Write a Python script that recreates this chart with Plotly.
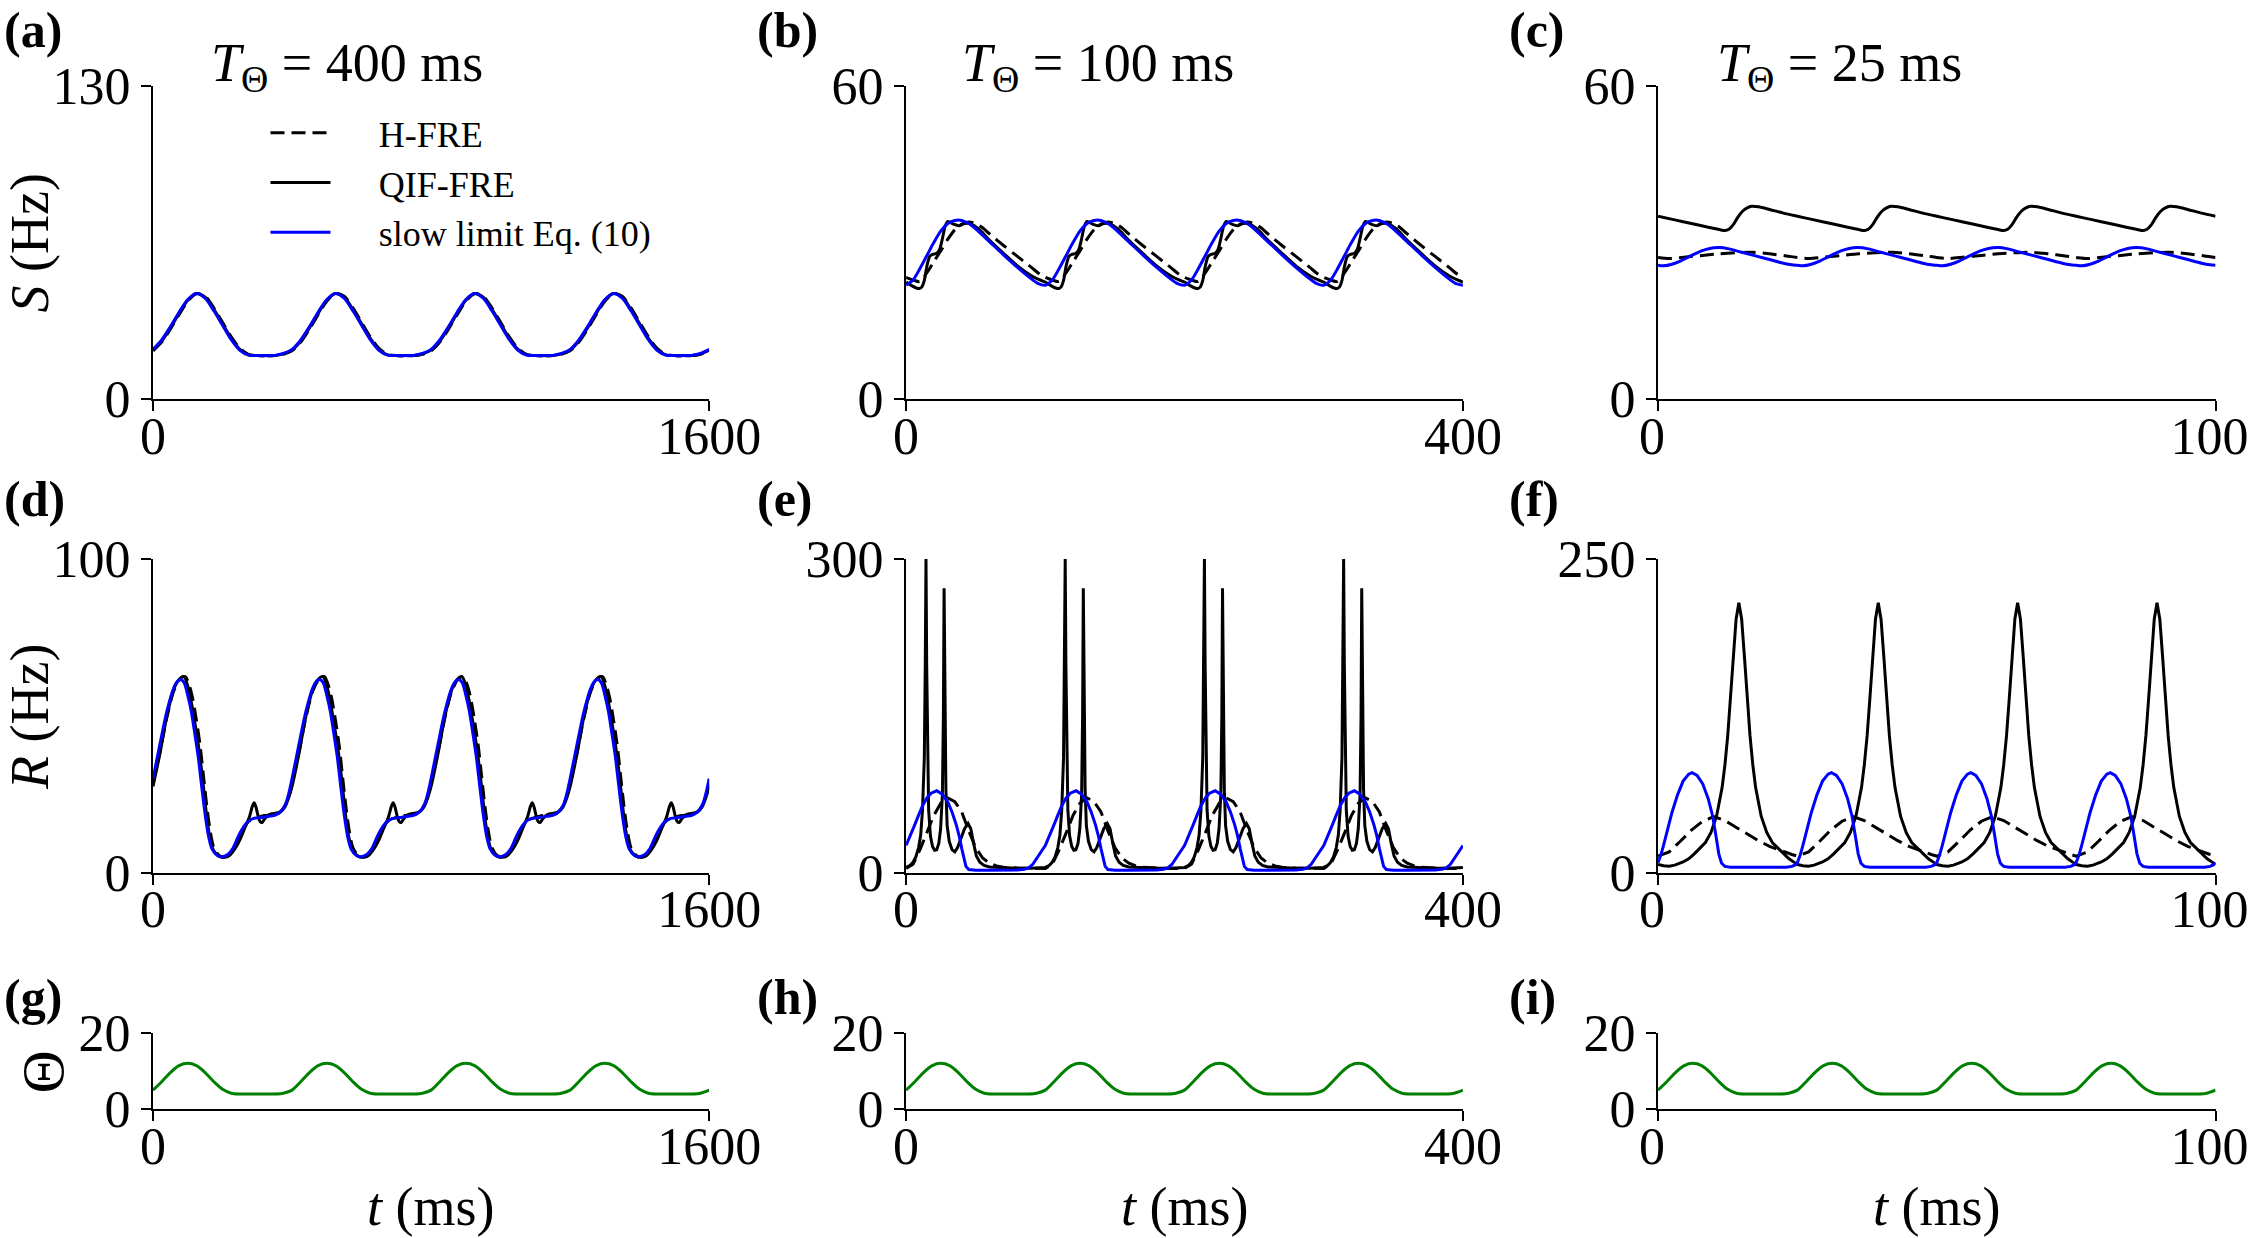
import plotly.graph_objects as go

# ---------------- data (one period of each periodic trace) ----------------
N_PERIODS = 4
PERIOD_A, PERIOD_B, PERIOD_C = 400, 100, 25          # ms  (T_Theta)
XMAX = [1600, 400, 100]

# (a) S, T=400 ms
phase_a = [0, 25, 50, 75, 100, 125, 150, 175, 200, 225, 250, 275, 300, 325, 350, 375]
S_a_hfre = [20.0, 23.6, 29.0, 35.0, 40.6, 43.7, 42.6, 37.8, 31.8, 25.8, 21.0, 18.5, 18.0, 18.0, 18.0, 18.6]
S_a_qif = [20.3, 24.0, 29.5, 35.5, 41.0, 43.8, 42.2, 37.2, 31.2, 25.2, 20.6, 18.3, 18.0, 18.0, 18.0, 18.7]
S_a_blue = [20.6, 24.5, 30.0, 36.0, 41.3, 43.8, 41.8, 36.6, 30.6, 24.6, 20.2, 18.2, 18.0, 18.0, 18.1, 18.9]

# (b) S, T=100 ms
phase_b_hfre = [0, 5, 10, 15, 20, 25, 30, 35, 40, 45, 50, 55, 60, 70, 80, 90, 96]
S_b_hfre = [23.3, 22.8, 22.5, 24.2, 26.3, 28.4, 30.6, 32.4, 33.5, 33.9, 33.6, 32.8, 31.6, 29.4, 27.3, 25.2, 23.9]
phase_b_qif = [0, 4, 8, 10, 11.5, 13, 15, 17, 19, 22, 24, 26, 28, 30, 34, 38, 42, 47, 52, 60, 70, 80, 90, 96]
S_b_qif = [22.4, 21.7, 21.2, 21.2, 21.5, 22.6, 25.5, 27.3, 27.7, 27.9, 28.6, 30.6, 33.0, 34.0, 33.5, 33.2,
           33.6, 33.5, 32.6, 30.4, 27.9, 25.5, 23.6, 22.8]
phase_b_blue = [0, 5, 10, 15, 20, 25, 30, 35, 40, 45, 50, 60, 70, 80, 90, 95]
S_b_blue = [21.8, 22.8, 25.0, 27.5, 30.0, 32.2, 33.6, 34.2, 34.2, 33.6, 32.6, 30.1, 27.6, 25.2, 23.0, 22.1]

# (c) S, T=25 ms
phase_c_hfre = [0, 2, 5, 8, 11, 14, 17, 20, 23]
S_c_hfre = [27.1, 26.9, 27.2, 27.5, 27.8, 28.0, 28.1, 27.8, 27.4]
phase_c_qif = [0, 3, 6, 9, 11, 12, 12.7, 13.5, 14.3, 15.2, 16, 16.8, 18, 20, 22.5]
S_c_qif = [35.0, 34.3, 33.6, 32.9, 32.45, 32.25, 32.5, 33.4, 34.8, 36.0, 36.6, 36.9, 36.8, 36.3, 35.6]
phase_c_blue = [0, 1, 2.5, 4, 5.5, 7, 8.5, 10, 11, 12.5, 15, 17.5, 20, 22.5, 24]
S_c_blue = [25.6, 25.5, 25.8, 26.4, 27.2, 28.0, 28.6, 28.95, 29.0, 28.8, 28.1, 27.4, 26.7, 26.0, 25.7]

# (d) R, T=400 ms
phase_d_hfre = [0, 20, 40, 60, 80, 93, 105, 115, 125, 135, 145, 155, 165, 175, 190, 205, 220, 235, 250, 265,
                280, 300, 320, 340, 360, 375, 390]
R_d_hfre = [28.5, 38.5, 49.5, 58, 62, 62.5, 59.5, 55, 48.5, 41, 31, 21, 13, 8, 5.5, 5, 5.8, 8.5, 12, 15,
            16.8, 17.6, 18.2, 18.4, 18.8, 20.5, 24]
phase_d_qif = [0, 20, 40, 60, 75, 89, 100, 110, 120, 130, 140, 148, 156, 165, 172, 180, 195, 205, 220, 235,
               250, 265, 278, 286, 291, 296, 302, 308, 314, 322, 335, 355, 368, 380, 390]
R_d_qif = [27.5, 38, 50, 58.5, 61.6, 62.5, 59.5, 54.5, 48, 41, 32.5, 24.5, 16.5, 10.4, 7.6, 6.2, 5.0, 4.9, 5.5, 7.5,
           10.5, 14.5, 18.0, 21.2, 22.3, 21.0, 18.2, 16.3, 16.0, 17.3, 18.5, 19.0, 19.5, 21.0, 23.8]
phase_d_blue = [0, 20, 40, 60, 72, 80, 90, 100, 110, 120, 130, 140, 150, 160, 170, 185, 200, 215, 230, 245,
                260, 275, 290, 310, 330, 350, 365, 380, 390]
R_d_blue = [30, 41, 51.5, 59, 61.2, 61.6, 60.5, 56.5, 51.5, 44.5, 37, 27.5, 18.5, 11.5, 7.5, 5.5, 5.1, 5.8, 7.8, 11.5,
            14.5, 16.5, 17.3, 17.6, 17.9, 18.3, 19.2, 21.5, 25]

# (e) R, T=100 ms
phase_e_hfre = [0, 5, 10, 15, 20, 25, 30, 35, 40, 45, 50, 55, 60, 65, 70, 80, 90, 95]
R_e_hfre = [4, 8, 22, 38, 55, 66.5, 71.5, 68, 58, 40, 24, 14, 9, 6.5, 5.2, 4.4, 4, 3.8]
phase_e_qif = [0, 3, 5, 7, 9, 10.5, 11.8, 13.1, 13.8, 14.3, 14.8, 15.5, 16.2, 17.5, 19, 20.5, 22, 23.5, 24.8, 26.1,
               26.8, 27.3, 27.8, 28.6, 29.5, 31, 33, 35, 37, 39, 42, 44.5, 46.5, 48.5, 50.5, 53, 56, 60, 70, 80,
               90, 96]
R_e_qif = [5, 7, 10, 15, 24, 36, 60, 110, 200, 300, 200, 110, 60, 35, 25, 21.5, 22, 28, 42, 75,
           150, 272, 150, 80, 45, 30, 22, 20, 24, 32, 42, 47, 42, 28, 16, 10, 7, 5.5, 4.5, 4.2,
           4.2, 4.5]
phase_e_blue = [0, 3, 6, 9, 12, 15, 18, 22, 26, 30, 33, 36, 38, 40, 41.5, 43, 45, 50, 60, 70,
                80, 85, 88, 91, 94, 97]
R_e_blue = [26, 35, 45, 55, 64.5, 71.5, 76, 78.3, 75, 67.5, 58, 46, 36, 23, 13, 6, 3, 2.3, 2.2, 2.3,
            2.6, 3.2, 4.5, 8, 13.5, 20]

# (f) R, T=25 ms
phase_f_hfre = [0, 2, 4, 6, 8, 10, 12, 14, 16, 18, 20, 22, 24]
R_f_hfre = [13.2, 16.5, 25, 34, 41, 44.6, 41.5, 36, 30.5, 25.5, 21, 17.5, 14.5]
phase_f_qif = [0, 1, 2, 3, 4.5, 5.5, 6.5, 8.5, 9.5, 10.5, 11.5, 12, 12.5, 13, 13.5, 14, 14.5, 15, 15.5, 16,
               16.5, 17, 17.5, 18.5, 19.5, 20.5, 22.5, 23.5, 24.5]
R_f_qif = [6.5, 5.5, 5.2, 6, 8.5, 11, 15, 24, 32, 45, 68, 86, 109, 139, 172, 202, 215, 202, 172, 139,
           109, 86, 68, 45, 32, 24, 15, 11, 8]
phase_f_blue = [0, 0.5, 1, 1.5, 2.5, 3.5, 4.5, 5.5, 6.1, 7, 8, 9, 9.8, 10.4, 10.9, 11.4, 12, 13, 16, 20,
                23, 24, 24.6]
R_f_blue = [8, 14, 22, 31, 48, 62, 73, 78.5, 79.7, 77.5, 71, 59, 45, 29, 15, 7.5, 5, 4.3, 4.2, 4.2,
            4.4, 5.0, 6.2]

# (g,h,i) Theta, one period as fraction of T_Theta
theta_frac = [0, 0.0625, 0.125, 0.1875, 0.25, 0.3125, 0.375, 0.4375, 0.5, 0.5625, 0.625, 0.6875, 0.75,
              0.8125, 0.875, 0.9375]
theta_vals = [5.0, 7.2, 9.6, 11.4, 12.0, 11.4, 9.6, 7.2, 5.2, 4.2, 4.0, 4.0, 4.0, 4.0, 4.0, 4.2]

YMAX = [130, 60, 60, 100, 300, 250, 20, 20, 20]
TITLES = ["400", "100", "25"]
PANEL_LABELS = ["(a)", "(b)", "(c)", "(d)", "(e)", "(f)", "(g)", "(h)", "(i)"]
LEGEND_NAMES = ["H-FRE", "QIF-FRE", "slow limit Eq. (10)"]


def periodic(phase, vals, period, scale=1.0):
    """Lay the read period side by side N_PERIODS times (the traces are periodic)."""
    t, v = [], []
    for k in range(N_PERIODS):
        t += [p * scale + k * period for p in phase]
        v += list(vals)
    t.append(N_PERIODS * period)
    v.append(vals[0])
    return t, v


# ---------------- layout geometry ----------------
XDOM = [[0.0680, 0.3152], [0.4027, 0.6502], [0.7369, 0.9847]]
YDOM = [[0.6777, 0.9308], [0.2951, 0.5485], [0.1040, 0.1658]]
FONT = "Liberation Serif"
BLACK = "#000000"
BLUE = "#0000ff"
GREEN = "#008000"
LW = 3.0
DASH = "14px,7px"

fig = go.Figure()

panels = [
    (1, [(phase_a, S_a_hfre, PERIOD_A, "hfre"), (phase_a, S_a_qif, PERIOD_A, "qif"), (phase_a, S_a_blue, PERIOD_A, "blue")]),
    (2, [(phase_b_hfre, S_b_hfre, PERIOD_B, "hfre"), (phase_b_qif, S_b_qif, PERIOD_B, "qif"), (phase_b_blue, S_b_blue, PERIOD_B, "blue")]),
    (3, [(phase_c_hfre, S_c_hfre, PERIOD_C, "hfre"), (phase_c_qif, S_c_qif, PERIOD_C, "qif"), (phase_c_blue, S_c_blue, PERIOD_C, "blue")]),
    (4, [(phase_d_hfre, R_d_hfre, PERIOD_A, "hfre"), (phase_d_qif, R_d_qif, PERIOD_A, "qif"), (phase_d_blue, R_d_blue, PERIOD_A, "blue")]),
    (5, [(phase_e_hfre, R_e_hfre, PERIOD_B, "hfre"), (phase_e_qif, R_e_qif, PERIOD_B, "qif"), (phase_e_blue, R_e_blue, PERIOD_B, "blue")]),
    (6, [(phase_f_hfre, R_f_hfre, PERIOD_C, "hfre"), (phase_f_qif, R_f_qif, PERIOD_C, "qif"), (phase_f_blue, R_f_blue, PERIOD_C, "blue")]),
]

style_map = {
    "hfre": dict(color=BLACK, width=LW, dash=DASH),
    "qif": dict(color=BLACK, width=LW),
    "blue": dict(color=BLUE, width=LW),
}
# em + thin space push the legend text to the right of the sample line, as in the reference
PAD = "\u2003\u2009"
name_map = {"hfre": PAD + LEGEND_NAMES[0], "qif": PAD + LEGEND_NAMES[1], "blue": PAD + LEGEND_NAMES[2]}

for idx, series in panels:
    spiky = idx in (5, 6)
    for phase, vals, period, st in series:
        t, v = periodic(phase, vals, period)
        line = dict(style_map[st])
        if not spiky:
            line.update(shape="spline", smoothing=0.8)
        fig.add_trace(go.Scatter(
            x=t, y=v, mode="lines", line=line,
            name=name_map[st], showlegend=(idx == 1),
            xaxis=f"x{idx}", yaxis=f"y{idx}", hoverinfo="skip"))

for j, period in enumerate([PERIOD_A, PERIOD_B, PERIOD_C]):
    idx = 7 + j
    t, v = periodic(theta_frac, theta_vals, period, scale=period)
    fig.add_trace(go.Scatter(
        x=t, y=v, mode="lines", line=dict(color=GREEN, width=LW, shape="spline", smoothing=0.8),
        showlegend=False, xaxis=f"x{idx}", yaxis=f"y{idx}", hoverinfo="skip"))

axis_common = dict(showline=True, linecolor=BLACK, linewidth=2.2, ticks="outside", ticklen=10,
                   tickwidth=2.2, tickcolor=BLACK, showgrid=False, zeroline=False, automargin=False,
                   ticklabeloverflow="allow",
                   tickfont=dict(family=FONT, size=52, color=BLACK), fixedrange=True)

layout_axes = {}
for r in range(3):
    for c in range(3):
        idx = r * 3 + c + 1
        xm = XMAX[c]
        ym = YMAX[idx - 1]
        xa = dict(axis_common, domain=XDOM[c], anchor=f"y{idx}",
                  range=[0, xm], tickvals=[0, xm], ticklabelstandoff=-20)
        if c == 2:
            xa["ticklabelshift"] = -6   # keep the right-most "100" inside the page
        layout_axes[f"xaxis{idx}"] = xa
        layout_axes[f"yaxis{idx}"] = dict(axis_common, domain=YDOM[r], anchor=f"x{idx}",
                                          range=[0, ym], tickvals=[0, ym])

fig.update_layout(**layout_axes)

ann = []
lab_x = [0.001, 0.3354, 0.6698]
lab_y = [0.9758, 0.597, 0.1947]
for r in range(3):
    for c in range(3):
        ann.append(dict(text=f"<b>{PANEL_LABELS[r*3+c]}</b>", x=lab_x[c], y=lab_y[r], xref="paper", yref="paper",
                        xanchor="left", yanchor="middle", showarrow=False,
                        font=dict(family=FONT, size=50, color=BLACK)))
title_x = [0.1542, 0.4880, 0.8174]
for c in range(3):
    ann.append(dict(text=f"<i>T</i><sub>Θ</sub> = {TITLES[c]} ms", x=title_x[c], y=0.946,
                    xref="paper", yref="paper", xanchor="center", yanchor="middle", showarrow=False,
                    font=dict(family=FONT, size=54, color=BLACK)))
ann.append(dict(text="<i>S</i> (Hz)", x=0.0135, y=0.8036, xref="paper", yref="paper", textangle=-90,
                showarrow=False, xanchor="center", yanchor="middle", font=dict(family=FONT, size=54, color=BLACK)))
ann.append(dict(text="<i>R</i> (Hz)", x=0.0130, y=0.4211, xref="paper", yref="paper", textangle=-90,
                showarrow=False, xanchor="center", yanchor="middle", font=dict(family=FONT, size=54, color=BLACK)))
ann.append(dict(text="Θ", x=0.0190, y=0.1343, xref="paper", yref="paper", textangle=-90,
                showarrow=False, xanchor="center", yanchor="middle", font=dict(family=FONT, size=60, color=BLACK)))
for c in range(3):
    ann.append(dict(text="<i>t</i> (ms)", x=(XDOM[c][0] + XDOM[c][1]) / 2, y=0.0253, xref="paper", yref="paper",
                    showarrow=False, xanchor="center", yanchor="middle",
                    font=dict(family=FONT, size=54, color=BLACK)))

fig.update_layout(
    width=2250, height=1238,
    margin=dict(l=0, r=0, t=0, b=0, autoexpand=False),
    paper_bgcolor="white", plot_bgcolor="white",
    font=dict(family=FONT, color=BLACK),
    annotations=ann,
    legend=dict(x=0.118, y=0.917, xanchor="left", yanchor="top", bgcolor="rgba(0,0,0,0)",
                font=dict(family=FONT, size=36, color=BLACK), itemwidth=60, tracegroupgap=0),
)

# remove the page's default body margin so the 2250x1238 figure fills the window exactly
fig.write_html("out.html", config={"displayModeBar": False},
               post_script="document.body.style.margin='0px';")
